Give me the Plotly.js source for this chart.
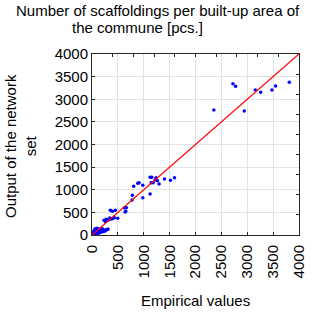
<!DOCTYPE html>
<html><head><meta charset="utf-8">
<script src="https://cdn.plot.ly/plotly-3.0.1.min.js"></script>
<style>html,body{margin:0;padding:0;background:#fff}#chart{width:318px;height:313px}</style>
</head><body><div id="chart"></div>
<script>
const empirical = [
  2355,2723,2774,2942,3155,3258,3477,3548,3813,
  774,781,806,884,910,981,981,1123,1155,1123,1142,1181,1219,1239,1265,1297,1400,1516,1594,
  355,394,452,232,277,310,355,394,432,497,626,665,652,639,342,290,260,
  0,8,10,20,30,40,50,60,70,80,90,100,110,120,130,140,150,160,170,180,190,200,210,220,230,240,250,260,280,300,310,15,25,35,45,55,65,5,75,85,100,120,140,160,180,200
];
const network = [
  2762,3344,3285,2740,3204,3153,3204,3293,3374,
  773,877,1075,1142,1157,1098,825,1274,1274,906,1157,1157,1215,1267,1200,1127,1237,1208,1267,
  545,523,545,324,346,324,346,361,383,368,604,604,523,508,376,330,300,
  0,2,5,12,8,25,20,30,15,40,35,50,45,60,40,55,70,60,80,65,90,75,95,80,100,90,110,95,115,120,130,40,60,80,100,120,140,20,110,130,150,120,110,130,120,140
];
const idealLine = [0, 4000];
const tickVals = [0,500,1000,1500,2000,2500,3000,3500,4000];
const tickText = ['0','500','1000','1500','2000','2500','3000','3500','4000'];
const titleLine1 = 'Number of scaffoldings per built-up area of';
const titleLine2 = 'the commune [pcs.]';
const xTitle = 'Empirical values';
const yTitle = 'Output of the network<br>set';

const font = '"Liberation Sans", Arial, sans-serif';
const L = 92, R = 299, T = 54, B = 235;
const px = x => (x - L) / (R - L);
const py = y => (B - y) / (B - T);

const traces = [
  {x: empirical, y: network, type: 'scatter', mode: 'markers',
   marker: {color: '#0000ff', size: 3.5}, hoverinfo: 'skip'},
  {x: idealLine, y: idealLine, type: 'scatter', mode: 'lines',
   line: {color: '#ff0000', width: 1.3}, hoverinfo: 'skip'},
  {x: [0], y: [0], xaxis: 'x2', yaxis: 'y2', type: 'scatter', mode: 'markers',
   marker: {opacity: 0}, hoverinfo: 'skip'}
];

const layout = {
  width: 318, height: 313,
  margin: {l: L, r: 318 - R, t: T, b: 313 - B, pad: 0},
  paper_bgcolor: '#fff', plot_bgcolor: '#fff',
  showlegend: false,
  font: {family: font, size: 15, color: '#000'},
  xaxis: {range: [0, 4000], tickvals: tickVals, ticktext: tickText, tickangle: -90,
    showgrid: true, gridcolor: '#e3e3e3', gridwidth: 1, zeroline: false,
    showline: true, linecolor: '#262626', linewidth: 1,
    ticks: 'inside', ticklen: 3, tickcolor: '#262626', ticklabelstandoff: 3,
    tickfont: {family: font, size: 15, color: '#000'}},
  yaxis: {range: [0, 4000], tickvals: tickVals, ticktext: tickText,
    showgrid: true, gridcolor: '#e3e3e3', gridwidth: 1, zeroline: false,
    showline: true, linecolor: '#262626', linewidth: 1,
    ticks: 'inside', ticklen: 3, tickcolor: '#262626',
    tickfont: {family: font, size: 15, color: '#000'}},
  xaxis2: {overlaying: 'x', side: 'top', range: [0, 10], dtick: 1, tick0: 0,
    showticklabels: false, showgrid: false, zeroline: false,
    showline: true, linecolor: '#262626', linewidth: 1,
    ticks: 'inside', ticklen: 3, tickcolor: '#262626'},
  yaxis2: {overlaying: 'y', side: 'right', range: [0, 9], dtick: 1, tick0: 0,
    showticklabels: false, showgrid: false, zeroline: false,
    showline: true, linecolor: '#262626', linewidth: 1,
    ticks: 'inside', ticklen: 3, tickcolor: '#262626'},
  annotations: [
    {text: titleLine1, xref: 'paper', yref: 'paper', x: px(158), y: py(21),
     xanchor: 'center', yanchor: 'bottom', showarrow: false, font: {family: font, size: 15}},
    {text: titleLine2, xref: 'paper', yref: 'paper', x: px(137), y: py(38),
     xanchor: 'center', yanchor: 'bottom', showarrow: false, font: {family: font, size: 15}},
    {text: xTitle, xref: 'paper', yref: 'paper', x: px(195), y: py(300),
     xanchor: 'center', yanchor: 'middle', showarrow: false, font: {family: font, size: 15}},
    {text: yTitle, xref: 'paper', yref: 'paper', x: px(20), y: py(146), textangle: -90,
     xanchor: 'center', yanchor: 'middle', showarrow: false, font: {family: font, size: 15}}
  ]
};
Plotly.newPlot('chart', traces, layout, {staticPlot: true, displayModeBar: false});
</script></body></html>
